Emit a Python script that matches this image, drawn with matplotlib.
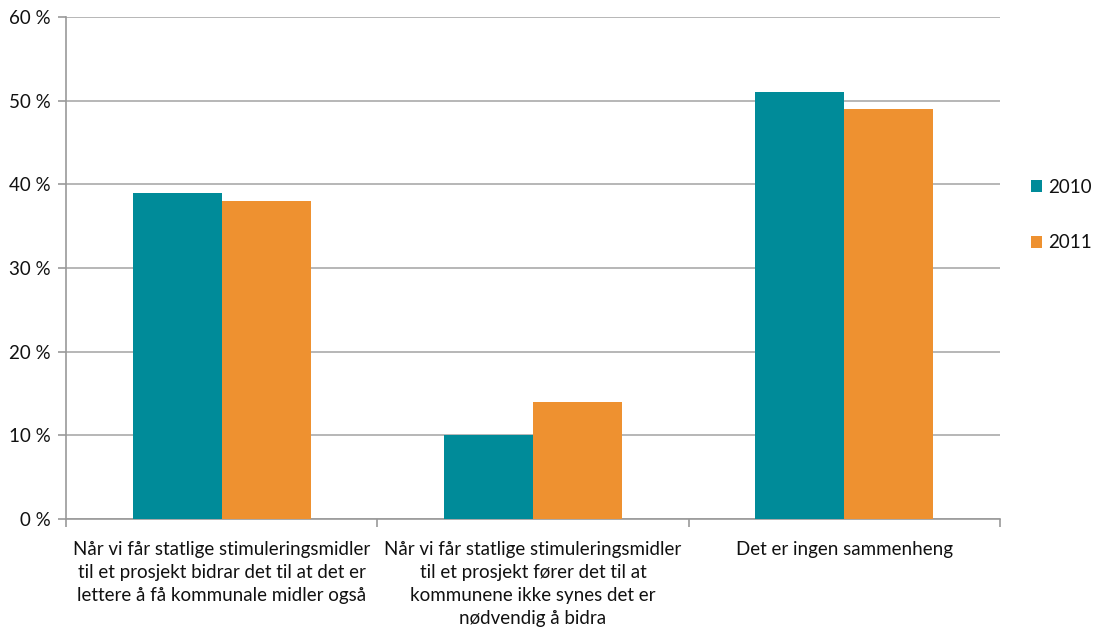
import matplotlib
matplotlib.use("Agg")
import matplotlib.pyplot as plt
import numpy as np

categories = [
    "Når vi får statlige stimuleringsmidler\ntil et prosjekt bidrar det til at det er\nlettere å få kommunale midler også",
    "Når vi får statlige stimuleringsmidler\ntil et prosjekt fører det til at\nkommunene ikke synes det er\nnødvendig å bidra",
    "Det er ingen sammenheng",
]
series_names = ["2010", "2011"]
values_2010 = [39, 10, 51]
values_2011 = [38, 14, 49]
yticks = [0, 10, 20, 30, 40, 50, 60]

plt.rcParams['font.family'] = ['Lato', 'DejaVu Sans']

W, H = 1093, 628
fig = plt.figure(figsize=(W/100, H/100), dpi=100)
ax = fig.add_axes([66/W, 1-519/H, (1000-66)/W, (519-17)/H])

x = np.arange(len(categories))
w = 0.286
teal = "#008B99"
orange = "#EE9130"
ax.bar(x - w/2, values_2010, w, color=teal, label=series_names[0], zorder=3)
ax.bar(x + w/2, values_2011, w, color=orange, label=series_names[1], zorder=3)

ax.set_xlim(-0.5, len(categories) - 0.5)
ax.set_ylim(0, 60)
ax.set_yticks(yticks)
ax.set_yticklabels([f"{t} %" for t in yticks], fontsize=13.5, color="#111111")
ax.yaxis.grid(True, color="#aaaaaa", linewidth=1.2, zorder=0)
ax.set_axisbelow(True)

ax.set_xticks(x)
ax.set_xticklabels(categories, fontsize=13.5, linespacing=1.42, color="#111111")
ax.tick_params(axis='x', which='major', length=0, pad=16)
ax.set_xticks(np.arange(-0.5, len(categories)), minor=True)
ax.tick_params(axis='x', which='minor', length=6, color="#999999", width=1.2)
ax.tick_params(axis='y', length=6, color="#999999", width=1.2, pad=5)

for s in ['top', 'right']:
    ax.spines[s].set_visible(False)
for s in ['left', 'bottom']:
    ax.spines[s].set_color("#999999")
    ax.spines[s].set_linewidth(1.2)

handles, labels = ax.get_legend_handles_labels()
leg = fig.legend(handles, labels, loc='upper left', bbox_to_anchor=(1031/W, 1-179/H),
                 frameon=False, fontsize=13.5, handlelength=0.6, handleheight=0.6,
                 handletextpad=0.3, labelspacing=2.05, borderpad=0, borderaxespad=0)
for t in leg.get_texts():
    t.set_color("#111111")

fig.savefig("out.png", dpi=100)
